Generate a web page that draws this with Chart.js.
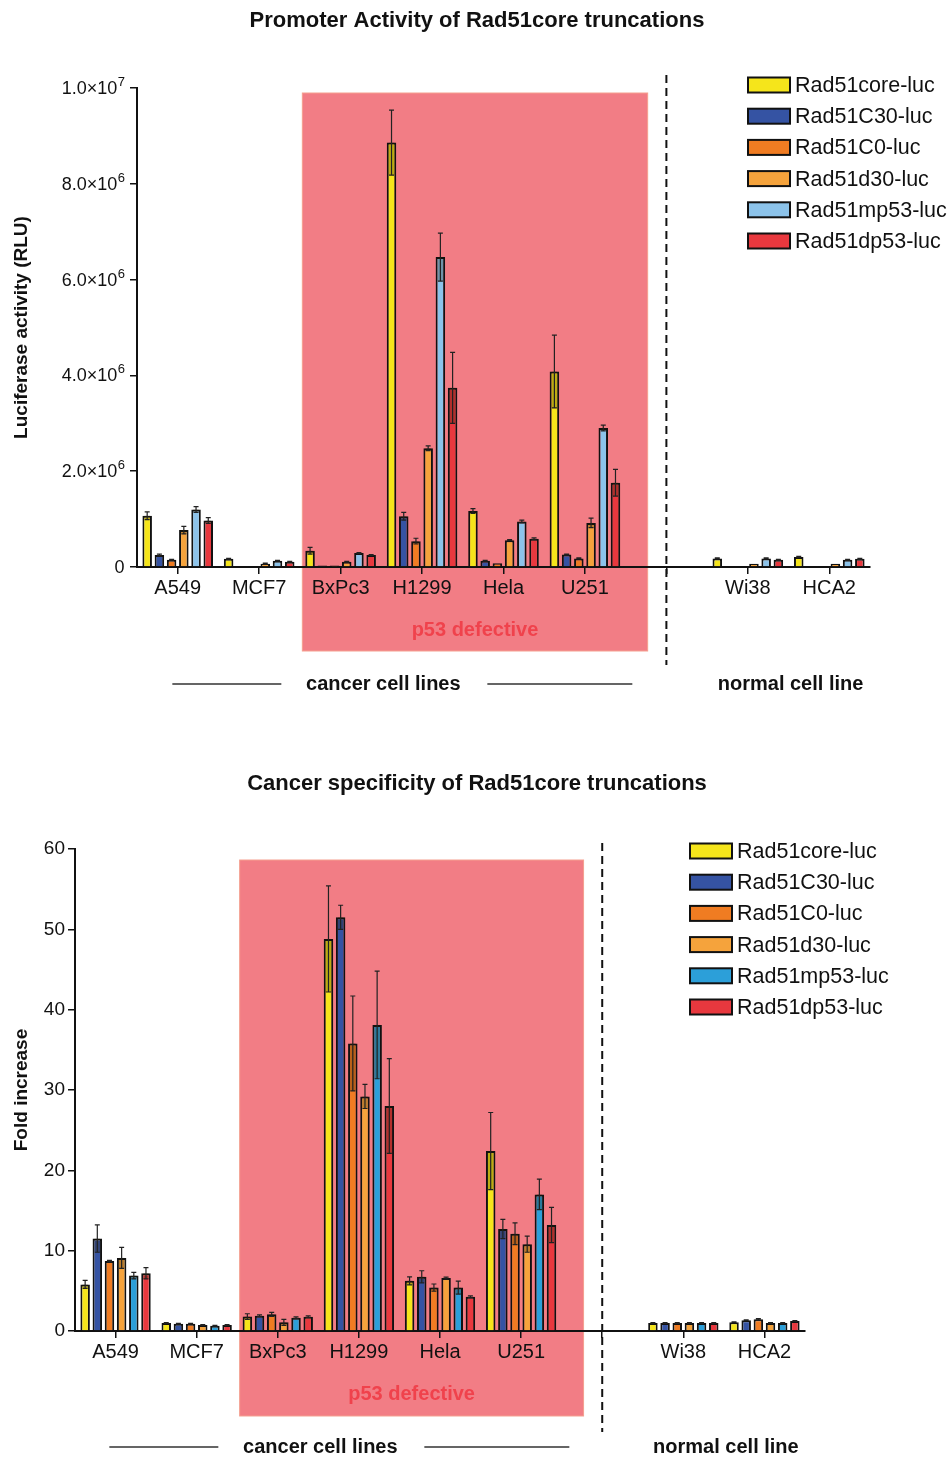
<!DOCTYPE html>
<html>
<head>
<meta charset="utf-8">
<script src="https://cdn.jsdelivr.net/npm/chart.js@4.4.1/dist/chart.umd.min.js"></script>
<style>
  body { margin: 0; background: #fff; width: 949px; height: 1458px; overflow: hidden; position: relative; }
  canvas { position: absolute; left: 0; }
</style>
</head>
<body>
<canvas id="promoter" width="949" height="720" style="top:0"></canvas>
<canvas id="specificity" width="949" height="738" style="top:720px"></canvas>
<script>
const cellLines = ["A549", "MCF7", "BxPc3", "H1299", "Hela", "U251", "", "Wi38", "HCA2"];
const constructs = ["Rad51core-luc", "Rad51C30-luc", "Rad51C0-luc", "Rad51d30-luc", "Rad51mp53-luc", "Rad51dp53-luc"];

// luciferase activity (RLU), in units of 1e6
const rluCore = [1.07, 0.17, 0.34, 8.86, 1.17, 4.08, null, 0.18, 0.21];
const rluC30  = [0.25, 0.02, 0.03, 1.06, 0.13, 0.26, null, 0.02, 0.02];
const rluC0   = [0.15, 0.02, 0.03, 0.54, 0.08, 0.18, null, 0.02, 0.02];
const rluD30  = [0.77, 0.07, 0.11, 2.48, 0.56, 0.92, null, 0.07, 0.07];
const rluMp53 = [1.20, 0.13, 0.29, 6.47, 0.95, 2.90, null, 0.18, 0.15];
const rluDp53 = [0.97, 0.11, 0.25, 3.74, 0.59, 1.76, null, 0.15, 0.17];

const rluCoreErr = [0.08, 0.01, 0.07, 0.68, 0.05, 0.76, null, 0.01, 0.01];
const rluC30Err  = [0.02, 0, 0, 0.08, 0.01, 0.01, null, 0, 0];
const rluC0Err   = [0.01, 0, 0, 0.06, 0, 0.01, null, 0, 0];
const rluD30Err  = [0.08, 0.01, 0.01, 0.05, 0.01, 0.10, null, 0, 0];
const rluMp53Err = [0.06, 0.01, 0.01, 0.50, 0.03, 0.06, null, 0.01, 0.01];
const rluDp53Err = [0.06, 0.01, 0.01, 0.74, 0.02, 0.28, null, 0.01, 0.01];

// fold increase
const foldCore = [5.8, 1.0, 1.8, 48.8, 6.25, 22.4, null, 1.0, 1.1];
const foldC30  = [11.5, 0.9, 1.9, 51.5, 6.75, 12.7, null, 1.0, 1.35];
const foldC0   = [8.7, 0.9, 2.07, 35.8, 5.4, 12.1, null, 1.0, 1.45];
const foldD30  = [9.1, 0.75, 1.08, 29.2, 6.6, 10.8, null, 1.0, 1.0];
const foldMp53 = [6.9, 0.65, 1.65, 38.1, 5.4, 17.0, null, 1.0, 1.0];
const foldDp53 = [7.2, 0.75, 1.78, 28.0, 4.26, 13.2, null, 1.0, 1.25];

const foldCoreErr = [0.5, 0.05, 0.35, 6.6, 0.5, 4.8, null, 0.05, 0.05];
const foldC30Err  = [1.7, 0.05, 0.1, 1.5, 0.75, 1.2, null, 0.05, 0.05];
const foldC0Err   = [0.1, 0.05, 0.25, 5.9, 0.45, 1.35, null, 0.05, 0.1];
const foldD30Err  = [1.3, 0.05, 0.37, 1.5, 0.1, 1.0, null, 0.05, 0.05];
const foldMp53Err = [0.4, 0.05, 0.1, 6.7, 0.8, 1.9, null, 0.05, 0.05];
const foldDp53Err = [0.7, 0.05, 0.1, 5.9, 0.1, 2.2, null, 0.05, 0.05];

// tick labels: [mantissa, exponent]
const rluTicks = [["0", ""], ["2.0×10", "6"], ["4.0×10", "6"], ["6.0×10", "6"], ["8.0×10", "6"], ["1.0×10", "7"]];
const foldTicks = ["0", "10", "20", "30", "40", "50", "60"];

const colorsTop = ["#f5e51b", "#3553a3", "#f07c22", "#f5a33c", "#8cc3ea", "#e8383e"];
const colorsBottom = ["#f5e51b", "#3553a3", "#f07c22", "#f5a33c", "#2c9fd9", "#e8383e"];

const FONT = "'Liberation Sans', Arial, Helvetica, sans-serif";

const makeDatasets = (series, errs, colors) =>
  series.map((data, i) => ({
    label: constructs[i],
    data: data,
    err: errs[i],
    backgroundColor: colors[i],
    borderColor: "#111",
    borderWidth: 2,
    categoryPercentage: 0.9,
    barPercentage: 0.78,
  }));

// error bars, drawn through the y scale
const errorBars = {
  id: "errorBars",
  afterDatasetsDraw(chart) {
    const { ctx } = chart;
    const y = chart.scales.y;
    chart.data.datasets.forEach((ds, i) => {
      const meta = chart.getDatasetMeta(i);
      meta.data.forEach((bar, j) => {
        const v = ds.data[j];
        const e = ds.err[j];
        if (v == null || !e) return;
        const yTop = y.getPixelForValue(v + e);
        const yVal = y.getPixelForValue(v);
        const yLow = y.getPixelForValue(Math.max(v - e, 0));
        ctx.save();
        ctx.fillStyle = "rgba(40,30,0,0.28)";
        ctx.fillRect(bar.x - bar.width / 2 + 2, yVal, bar.width - 4, yLow - yVal);
        ctx.strokeStyle = "#222";
        ctx.lineWidth = 1.2;
        ctx.beginPath();
        ctx.moveTo(bar.x, yTop);
        ctx.lineTo(bar.x, yLow);
        ctx.moveTo(bar.x - 2.5, yTop);
        ctx.lineTo(bar.x + 2.5, yTop);
        ctx.moveTo(bar.x - 2.5, yLow);
        ctx.lineTo(bar.x + 2.5, yLow);
        ctx.stroke();
        ctx.restore();
      });
    });
  },
};

// pink band, dashed separator, titles, group labels, legend
const decor = {
  id: "decor",
  beforeDraw(chart, args, o) {
    const { ctx, chartArea } = chart;
    const x = chart.scales.x;
    const w = x.getPixelForValue(1) - x.getPixelForValue(0);
    const left = x.getPixelForValue(2) - 0.47 * w;
    const right = x.getPixelForValue(5) + 0.77 * w;
    ctx.save();
    ctx.fillStyle = "#f27d85";
    ctx.fillRect(left, chartArea.top + o.bandTop, right - left, chartArea.bottom + o.bandBottom - chartArea.top - o.bandTop);
    ctx.strokeStyle = "#f5a08f";
    ctx.lineWidth = 1;
    ctx.strokeRect(left, chartArea.top + o.bandTop, right - left, chartArea.bottom + o.bandBottom - chartArea.top - o.bandTop);
    ctx.fillStyle = "#f0424c";
    ctx.font = "bold 20px " + FONT;
    ctx.textAlign = "center";
    ctx.textBaseline = "middle";
    ctx.fillText("p53 defective", (left + right) / 2, chartArea.bottom + 63);
    ctx.restore();
  },
  afterDraw(chart, args, o) {
    const { ctx, chartArea } = chart;
    const x = chart.scales.x;
    const y = chart.scales.y;
    const xs = x.getPixelForValue(6);
    ctx.save();

    // scientific tick labels with raised exponent
    if (o.sciTicks) {
      ctx.fillStyle = "#111";
      ctx.textBaseline = "alphabetic";
      ctx.textAlign = "right";
      o.sciTicks.forEach(([m, ex], i) => {
        const ty = y.getPixelForValue(i * 2) + 6;
        const right = chartArea.left - 12;
        ctx.font = "13px " + FONT;
        const ew = ex ? ctx.measureText(ex).width : 0;
        if (ex) ctx.fillText(ex, right, ty - 8);
        ctx.font = "18px " + FONT;
        ctx.fillText(m, right - ew - 0.5, ty);
      });
    }

    // dashed separator
    ctx.strokeStyle = "#111";
    ctx.lineWidth = 2;
    ctx.setLineDash([8, 5]);
    ctx.beginPath();
    ctx.moveTo(xs, chartArea.top + o.dashTop);
    ctx.lineTo(xs, chartArea.bottom + o.dashBottom);
    ctx.stroke();
    ctx.setLineDash([]);

    // title
    ctx.fillStyle = "#111";
    ctx.textAlign = "center";
    ctx.textBaseline = "middle";
    ctx.font = "bold 22px " + FONT;
    ctx.fillText(o.title, 477, o.titleY);

    // group labels
    const gy = chartArea.bottom + o.groupY;
    ctx.font = "bold 20px " + FONT;
    const cx = (x.getPixelForValue(2) + x.getPixelForValue(3)) / 2 + 2;
    ctx.fillText("cancer cell lines", cx, gy);
    ctx.fillText("normal cell line", (x.getPixelForValue(7) + x.getPixelForValue(8)) / 2 + 2, gy);
    ctx.strokeStyle = "#333";
    ctx.lineWidth = 1.5;
    ctx.beginPath();
    ctx.moveTo(cx - 211, gy);
    ctx.lineTo(cx - 102, gy);
    ctx.moveTo(cx + 104, gy);
    ctx.lineTo(cx + 249, gy);
    ctx.stroke();

    // legend
    ctx.textAlign = "left";
    ctx.font = "21.5px " + FONT;
    chart.data.datasets.forEach((ds, i) => {
      const ly = o.legendY + i * 31.2;
      ctx.fillStyle = ds.backgroundColor;
      ctx.fillRect(o.legendX, ly - 7.5, 42, 15);
      ctx.strokeStyle = "#111";
      ctx.lineWidth = 2;
      ctx.strokeRect(o.legendX, ly - 7.5, 42, 15);
      ctx.fillStyle = "#111";
      ctx.fillText(ds.label, o.legendX + 47, ly + 1);
    });
    ctx.restore();
  },
};

function makeChart(id, datasets, cfg) {
  return new Chart(document.getElementById(id), {
    type: "bar",
    data: { labels: cellLines, datasets: datasets },
    plugins: [decor, errorBars],
    options: {
      responsive: false,
      animation: false,
      layout: { padding: { left: 0, right: cfg.padRight, top: cfg.padTop, bottom: cfg.padBottom } },
      plugins: {
        legend: { display: false },
        tooltip: { enabled: false },
        decor: cfg.decor,
      },
      scales: {
        x: {
          afterFit: (s) => { s.height = 40; },
          grid: { display: true, drawOnChartArea: false, drawTicks: true, tickLength: 7, offset: false, color: "#111", lineWidth: 1.5 },
          border: { display: true, color: "#111", width: 2 },
          ticks: { color: "#111", font: { family: FONT, size: 20 }, padding: 2, maxRotation: 0, autoSkip: false },
        },
        y: {
          min: 0,
          max: cfg.max,
          afterFit: (s) => { s.width = cfg.axisWidth; },
          afterBuildTicks: (s) => { s.ticks = cfg.tickLabels.map((_, i) => ({ value: i * cfg.step })); },
          grid: { display: true, drawOnChartArea: false, drawTicks: true, tickLength: 7, color: "#111", lineWidth: 1.5 },
          border: { display: true, color: "#111", width: 2 },
          ticks: {
            display: cfg.showTicks,
            color: "#111",
            font: { family: FONT, size: cfg.tickSize },
            padding: 3,
            callback: (v, i) => cfg.tickLabels[i],
          },
          title: {
            display: true,
            text: cfg.yTitle,
            color: "#111",
            font: { family: FONT, size: 19, weight: "bold" },
            padding: { top: 10, bottom: 0 },
          },
        },
      },
    },
  });
}

makeChart("promoter",
  makeDatasets([rluCore, rluC30, rluC0, rluD30, rluMp53, rluDp53],
               [rluCoreErr, rluC30Err, rluC0Err, rluD30Err, rluMp53Err, rluDp53Err], colorsTop),
  {
    padRight: 79, padTop: 88, padBottom: 113, max: 10, step: 2, axisWidth: 137, tickSize: 18, showTicks: false,
    tickLabels: rluTicks, yTitle: "Luciferase activity (RLU)",
    decor: {
      title: "Promoter Activity of Rad51core truncations", titleY: 21, sciTicks: rluTicks,
      bandTop: 5, bandBottom: 84, dashTop: -13, dashBottom: 98, groupY: 117,
      legendX: 748, legendY: 85,
    },
  });

makeChart("specificity",
  makeDatasets([foldCore, foldC30, foldC0, foldD30, foldMp53, foldDp53],
               [foldCoreErr, foldC30Err, foldC0Err, foldD30Err, foldMp53Err, foldDp53Err], colorsBottom),
  {
    padRight: 144, padTop: 129, padBottom: 87, max: 60, step: 10, axisWidth: 75, tickSize: 19, showTicks: true,
    tickLabels: foldTicks, yTitle: "Fold increase",
    decor: {
      title: "Cancer specificity of Rad51core truncations", titleY: 64,
      bandTop: 11, bandBottom: 85, dashTop: -6, dashBottom: 101, groupY: 116,
      legendX: 690, legendY: 131,
    },
  });
</script>
</body>
</html>
